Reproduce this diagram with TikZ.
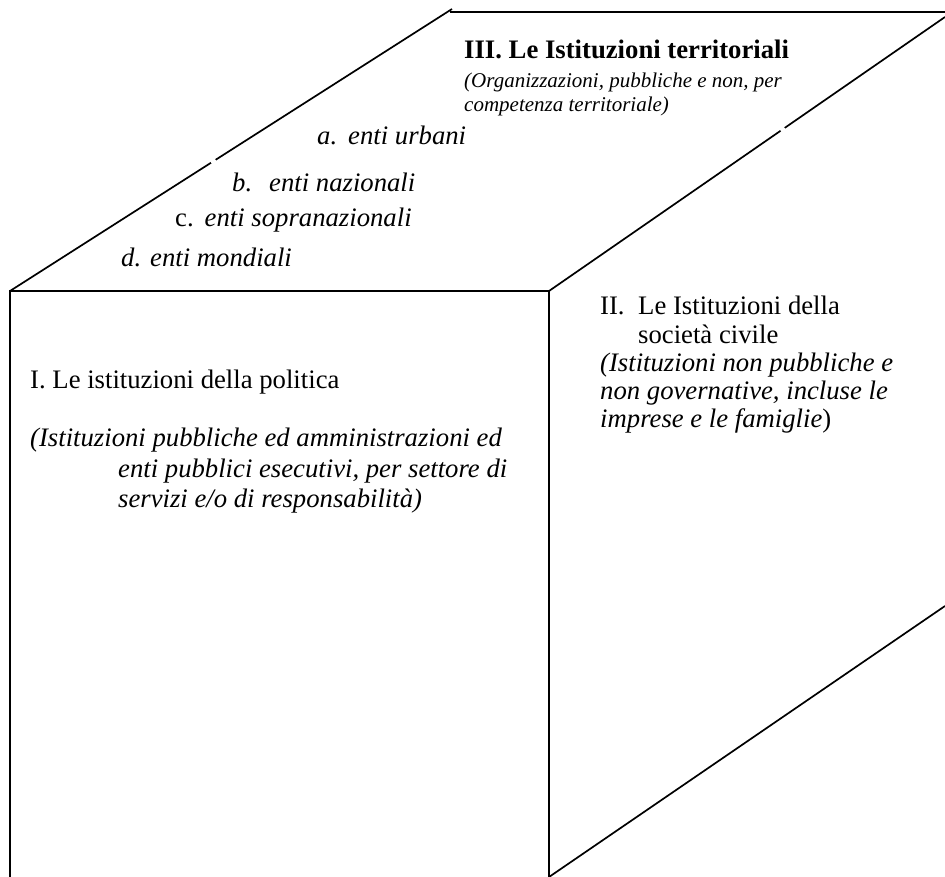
\documentclass[tikz,border=0pt]{standalone}
\usepackage{fontspec}
\setmainfont{Liberation Serif}
\usetikzlibrary{calc}
\begin{document}
\begin{tikzpicture}[x=1pt,y=-1pt,
  edge/.style={line width=1.7pt},
  gap/.style={white, line width=4pt},
  txt/.style={anchor=base west, inner sep=0pt, font=\fontsize{26.7}{31}\selectfont},
  ital/.style={txt, font=\fontsize{26.7}{31}\selectfont\itshape},
  sub/.style={anchor=base west, inner sep=0pt, font=\fontsize{21}{24}\selectfont\itshape}]
\useasboundingbox (0,0) rectangle (945,877);
% corners
\coordinate (FBL) at (10,877);
\coordinate (FTL) at (10,291);
\coordinate (FTR) at (549,291);
\coordinate (FBR) at (549,877);
\coordinate (BTL) at (452,9);
\coordinate (TLs) at (450,12);
\coordinate (TLe) at (945,12);
\coordinate (RTe) at (945,17);
\coordinate (RBe) at (945,606);
% box edges
\draw[edge] (FBL) -- (FTL) -- (FTR) -- (FBR);
\draw[edge] (FTL) -- (BTL);
\draw[edge] (TLs) -- (TLe);
\draw[edge] (FTR) -- (RTe);
\draw[edge] (FBR) -- (RBe);
% small gaps in the diagonals
\draw[gap] ($(FTL)!0.455!(BTL)$) -- ($(FTL)!0.465!(BTL)$);
\draw[gap] ($(FTR)!0.585!(RTe)$) -- ($(FTR)!0.595!(RTe)$);
% top face
\node[txt, font=\fontsize{26.7}{31}\selectfont\bfseries] (t3) at (464,59) {III. Le Istituzioni territoriali};
\node[sub] (t3a) at (464,88) {(Organizzazioni, pubbliche e non, per};
\node[sub] (t3b) at (464,112) {competenza territoriale)};
\node[ital] (ia) at (317,145) {a.\hspace{11pt}enti urbani};
\node[ital] (ib) at (232,192) {b.\hspace{17pt}enti nazionali};
\node[txt] (ic) at (175,227) {c.\hspace{11pt}\itshape enti sopranazionali};
\node[ital] (id) at (121,267) {d.\hspace{9pt}enti mondiali};
% front face
\node[txt] (t1) at (30,388) {I. Le istituzioni della politica};
\node[ital] (t1a) at (30,446) {(Istituzioni pubbliche ed amministrazioni ed};
\node[ital] (t1b) at (118,477) {enti pubblici esecutivi, per settore di};
\node[ital] (t1c) at (118,507) {servizi e/o di responsabilità)};
% right face
\node[txt] (t2n) at (600,315) {II.};
\node[txt] (t2) at (638,315) {Le Istituzioni della};
\node[txt] (t2b) at (638,343) {società civile};
\node[ital] (t2c) at (600,371) {(Istituzioni non pubbliche e};
\node[ital] (t2d) at (600,399) {non governative, incluse le};
\node[txt] (t2e) at (600,427) {{\itshape imprese e le famiglie})};
\end{tikzpicture}
\end{document}
